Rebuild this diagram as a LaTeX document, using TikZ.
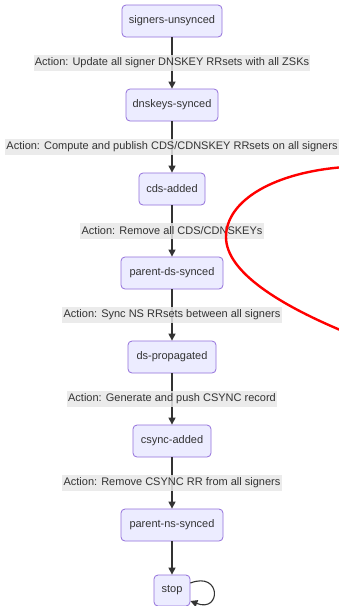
\documentclass[tikz,border=0pt]{standalone}
\usepackage{fontspec}
\setmainfont{Liberation Sans}
\usetikzlibrary{arrows.meta}
\definecolor{nodefill}{HTML}{ECECFF}
\definecolor{nodeborder}{HTML}{9370DB}
\definecolor{labelbg}{HTML}{E8E8E8}
\definecolor{txt}{HTML}{333333}
\tikzset{
  state/.style={draw=nodeborder, fill=nodefill, rounded corners=4pt, line width=0.8pt,
    minimum height=32pt, inner xsep=0pt, text=txt, font=\fontsize{11}{13}\selectfont},
  actlabel/.style={fill=labelbg, fill opacity=0.85, text opacity=1, text=txt,
    inner xsep=1.2pt, inner ysep=0pt, minimum height=16pt, font=\fontsize{11}{13}\selectfont},
  arr/.style={draw=txt, line width=1.1pt, -{Triangle[length=7pt,width=7pt]}},
  redmark/.style={draw=red, line width=2.4pt}
}
\begin{document}
\begin{tikzpicture}[x=1pt,y=-1pt]
\useasboundingbox[fill=white] (0,0) rectangle (339,606);
\node[state, minimum width=100pt] (s1) at (172,21) {signers-unsynced};
\node[state, minimum width=92pt] (s2) at (172,105) {dnskeys-synced};
\node[state, minimum width=66pt] (s3) at (172,189) {cds-added};
\node[state, minimum width=102pt] (s4) at (172,273) {parent-ds-synced};
\node[state, minimum width=88pt] (s5) at (172,357) {ds-propagated};
\node[state, minimum width=78pt] (s6) at (172,441) {csync-added};
\node[state, minimum width=102pt] (s7) at (172,525) {parent-ns-synced};
\node[state, minimum width=36pt, minimum height=31pt] (s8) at (172,590.5) {stop};

\draw[arr] (s1) -- (s2);
\draw[arr] (s2) -- (s3);
\draw[arr] (s3) -- (s4);
\draw[arr] (s4) -- (s5);
\draw[arr] (s5) -- (s6);
\draw[arr] (s6) -- (s7);
\draw[arr] (s7) -- (s8);
\draw[arr] ([yshift=7.5pt]s8.east) .. controls +(31pt,12pt) and +(31pt,-12pt) .. ([yshift=-10.5pt]s8.east);

\node[actlabel] (l1) at (172,63) {Action: Update all signer DNSKEY RRsets with all ZSKs};
\node[actlabel] (l2) at (172,147) {Action: Compute and publish CDS/CDNSKEY RRsets on all signers};
\node[actlabel] (l3) at (172,231) {Action: Remove all CDS/CDNSKEYs};
\node[actlabel] (l4) at (172,315) {Action: Sync NS RRsets between all signers};
\node[actlabel] (l5) at (172,399) {Action: Generate and push CSYNC record};
\node[actlabel] (l6) at (172,483) {Action: Remove CSYNC RR from all signers};

\draw[redmark] (345,167) .. controls (275,172) and (226,200) .. (226,237)
  .. controls (226,272) and (280,305) .. (345,332);
\end{tikzpicture}
\end{document}
